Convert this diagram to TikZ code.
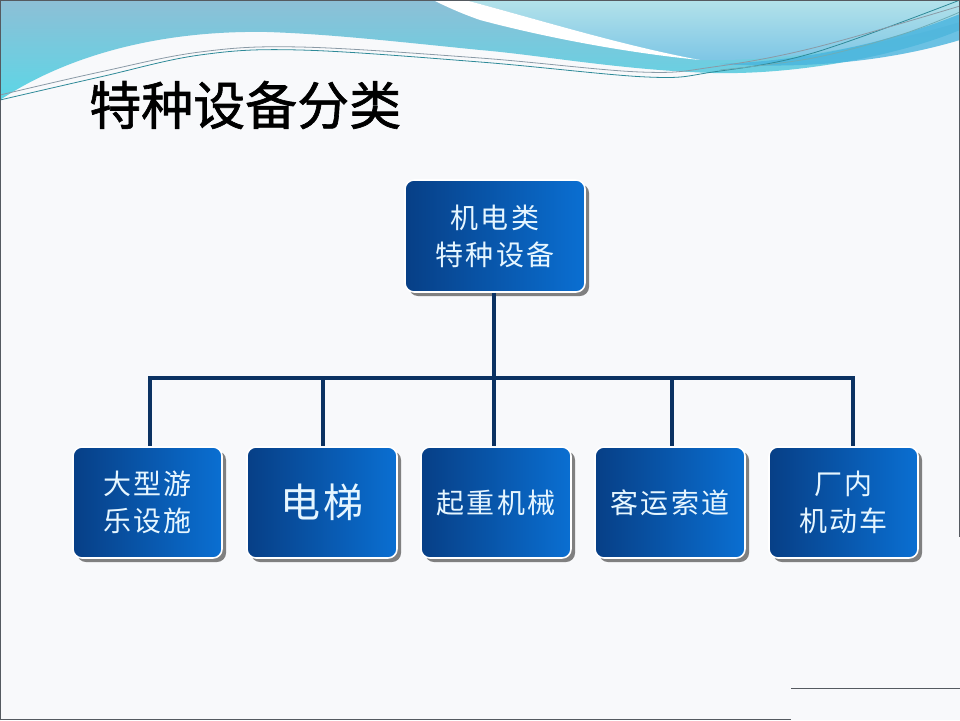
\documentclass[tikz,border=0pt]{standalone}
\usepackage{fontspec}
\newfontfamily\cjk{Noto Sans CJK SC}
\newfontfamily\cjkls{Noto Sans CJK SC}[LetterSpace=8]
\newfontfamily\cjkt{Noto Sans CJK SC}[FakeBold=1.2]
\usetikzlibrary{shadows}
\definecolor{pagebg}{HTML}{F8F9FB}
\definecolor{navy}{HTML}{0B3262}
\definecolor{boxL}{HTML}{073F86}
\definecolor{boxR}{HTML}{0A6FD2}
\definecolor{boxtxt}{HTML}{E6F6FF}
\definecolor{waveTop}{HTML}{8DBFD6}
\definecolor{waveBot}{HTML}{5CD6E6}
\definecolor{paleTop}{HTML}{B3E2EA}
\definecolor{paleBot}{HTML}{7CC5E5}
\definecolor{midblue}{HTML}{48B4DE}
\definecolor{lineA}{HTML}{2E8A98}
\definecolor{lineB}{HTML}{8A9AA6}
\definecolor{frame}{HTML}{555A60}
\tikzset{
  orgbox/.style={rounded corners=9pt, draw=white, line width=1.6pt,
    left color=boxL, right color=boxR, text=boxtxt, align=center,
    inner sep=0pt, minimum width=150pt, minimum height=111pt,
    font=\cjkls\fontsize{28}{37}\selectfont,
    drop shadow={shadow xshift=4pt, shadow yshift=-4pt, opacity=1, fill=black!50}},
  conn/.style={draw=navy, line width=4.5pt},
  thinwave/.style={line width=0.8pt}
}
\begin{document}
\begin{tikzpicture}[x=1pt,y=-1pt]
\useasboundingbox (0,0) rectangle (960,720);
\fill[pagebg] (0,0) rectangle (960,720);
% top wave background
\shade[top color=waveTop, bottom color=waveBot]
  (0,0) -- (960,0) -- (960,30)
  .. controls (900,55) and (800,75) .. (713,73)
  .. controls (620,70) and (540,55) .. (480,50)
  .. controls (400,42) and (330,34) .. (267,32)
  .. controls (150,30) and (60,60) .. (0,100) -- cycle;
\shade[top color=paleTop, bottom color=paleBot]
  (465,0) -- (960,0) -- (960,22)
  .. controls (900,40) and (800,62) .. (700,60)
  .. controls (620,45) and (540,20) .. (465,0) -- cycle;
\fill[midblue, opacity=0.8]
  (720,64) .. controls (820,60) and (900,38) .. (960,14) -- (960,40)
  .. controls (900,58) and (820,70) .. (720,64) -- cycle;
\fill[white]
  (433,0) -- (465,0) .. controls (540,20) and (620,45) .. (700,60)
  .. controls (620,52) and (540,36) .. (480,20)
  .. controls (460,13) and (445,6) .. (433,0) -- cycle;
\draw[thinwave, lineA] plot[smooth, tension=0.6] coordinates
  {(0,100) (100,77) (200,55) (300,50) (480,62) (647,77) (713,72) (813,53) (960,0)};
\draw[thinwave, lineB] plot[smooth, tension=0.6] coordinates
  {(0,95) (100,72) (200,52) (300,47) (480,58) (640,72) (713,67) (813,48) (960,6)};
\draw[thinwave, lineA!70] plot[smooth, tension=0.6] coordinates
  {(720,70) (813,58) (900,35) (960,12)};
% frame
\draw[frame, line width=1.2pt] (0.6,720) -- (0.6,0.6) -- (959.4,0.6) -- (959.4,537);
\draw[frame, line width=1.2pt] (0,719.4) -- (791,719.4);
\draw[frame, line width=1pt] (791,688) -- (960,688);
% title
\node[anchor=west, inner sep=0pt, font=\cjkt\fontsize{52}{60}\selectfont] (title) at (89,105) {特种设备分类};
% boxes
\node[orgbox, minimum width=180pt, minimum height=112pt] (top) at (495,236) {机电类\\特种设备};
\node[orgbox, minimum width=149pt] (n1) at (147.5,502.5) {大型游\\乐设施};
\node[orgbox, font=\cjkls\fontsize{40}{44}\selectfont] (n2) at (322,502.5) {电梯};
\node[orgbox] (n3) at (496,502.5) {起重机械};
\node[orgbox] (n4) at (670,502.5) {客运索道};
\node[orgbox, minimum width=149pt] (n5) at (843.5,502.5) {厂内\\机动车};
% connectors
\coordinate (j1) at (150,378);
\coordinate (j2) at (323,378);
\coordinate (j3) at (494,378);
\coordinate (j4) at (672,378);
\coordinate (j5) at (853,378);
\draw[conn] (j3 |- top.south) -- (j3);
\draw[conn, line cap=rect] (j1) -- (j5);
\draw[conn] (j1) -- (j1 |- n1.north);
\draw[conn] (j2) -- (j2 |- n2.north);
\draw[conn] (j3) -- (j3 |- n3.north);
\draw[conn] (j4) -- (j4 |- n4.north);
\draw[conn] (j5) -- (j5 |- n5.north);
\end{tikzpicture}
\end{document}
